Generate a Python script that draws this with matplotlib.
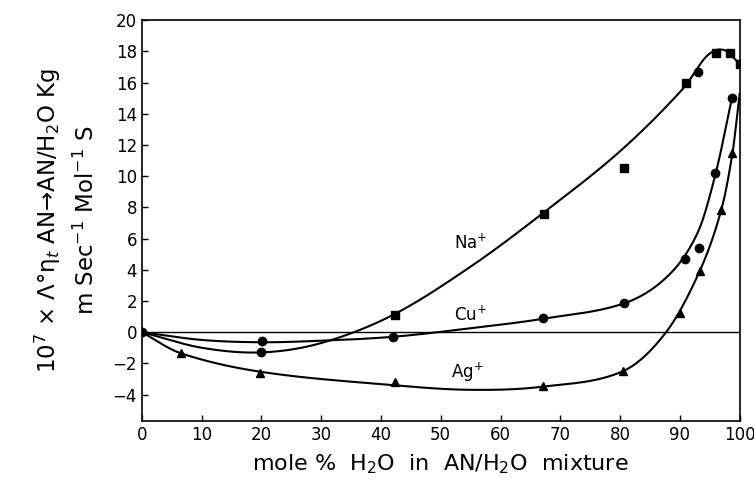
import numpy as np
import matplotlib
matplotlib.use("Agg")
import matplotlib.pyplot as plt

# ---------------- data ----------------
# smooth-curve knots
na_curve_x = [0, 10, 20, 30, 42, 55, 67, 80, 90.5, 94.5, 97.3, 100]
na_curve_y = [0, -1.0, -1.3, -0.7, 1.1, 4.2, 7.6, 11.6, 15.6, 17.7, 18.1, 17.2]

cu_curve_x = [0, 10, 20, 30, 42, 55, 67, 80.7, 88, 93, 96, 98.7]
cu_curve_y = [0, -0.5, -0.65, -0.55, -0.3, 0.25, 0.85, 1.85, 3.6, 6.4, 10.2, 15.0]

ag_curve_x = [0, 6.5, 20, 42, 55, 67, 80.5, 87.7, 93.3, 96.9, 98.8, 100]
ag_curve_y = [0, -1.35, -2.55, -3.4, -3.7, -3.5, -2.5, 0.0, 3.9, 7.8, 11.5, 15.3]

# measured points
na_sq_x = [42.4, 67.3, 80.7, 91.1, 96.0, 98.3, 100]
na_sq_y = [1.1, 7.6, 10.5, 16.0, 17.9, 17.9, 17.2]
na_ci_x = [20.0, 93.1]
na_ci_y = [-1.3, 16.7]

cu_x = [0, 20.1, 42.1, 67.1, 80.7, 90.9, 93.2, 95.8, 98.7]
cu_y = [0, -0.6, -0.3, 0.9, 1.85, 4.7, 5.4, 10.2, 15.0]

ag_x = [6.5, 19.8, 42.3, 67.1, 80.5, 90.1, 93.3, 96.9, 98.8]
ag_y = [-1.35, -2.6, -3.2, -3.45, -2.5, 1.2, 3.9, 7.8, 11.5]

ion_labels = ["Na$^{+}$", "Cu$^{+}$", "Ag$^{+}$"]
ion_label_x = [55, 55, 54.5]
ion_label_y = [5.7, 1.1, -2.6]

x_ticks = list(range(0, 101, 10))
y_ticks = list(range(-4, 21, 2))


def hermite_curve(x, y, xs):
    """Catmull-Rom style cubic Hermite through the knots (local, smooth)."""
    x = np.asarray(x, float)
    y = np.asarray(y, float)
    n = len(x)
    m = np.zeros(n)
    m[1:-1] = (y[2:] - y[:-2]) / (x[2:] - x[:-2])
    m[0] = (y[1] - y[0]) / (x[1] - x[0])
    m[-1] = (y[-1] - y[-2]) / (x[-1] - x[-2])
    h = np.diff(x)
    idx = np.clip(np.searchsorted(x, xs) - 1, 0, n - 2)
    t = (xs - x[idx]) / h[idx]
    h00 = 2 * t**3 - 3 * t**2 + 1
    h10 = t**3 - 2 * t**2 + t
    h01 = -2 * t**3 + 3 * t**2
    h11 = t**3 - t**2
    return h00 * y[idx] + h10 * h[idx] * m[idx] + h01 * y[idx + 1] + h11 * h[idx] * m[idx + 1]


fig = plt.figure(figsize=(7.54, 4.93), dpi=100)
ax = fig.add_axes([0.188, 0.146, 0.793, 0.813])

lw = 1.5
for cx, cy in [(na_curve_x, na_curve_y), (cu_curve_x, cu_curve_y), (ag_curve_x, ag_curve_y)]:
    xs = np.linspace(cx[0], cx[-1], 800)
    ax.plot(xs, hermite_curve(cx, cy, xs), color="black", lw=lw, solid_capstyle="round")

ax.axhline(0, color="black", lw=1.0)

ax.plot(na_sq_x, na_sq_y, "s", color="black", ms=6, ls="none")
ax.plot(na_ci_x, na_ci_y, "o", color="black", ms=6, ls="none")
ax.plot(cu_x, cu_y, "o", color="black", ms=6, ls="none")
ax.plot(ag_x, ag_y, "^", color="black", ms=6, ls="none")

for lab, lx, ly in zip(ion_labels, ion_label_x, ion_label_y):
    ax.text(lx, ly, lab, fontsize=12, ha="center", va="center")

ax.set_xlim(0, 100)
ax.set_ylim(-5.7, 19.9)
ax.set_xticks(x_ticks)
ax.set_yticks(y_ticks)
ax.tick_params(direction="in", length=4, labelsize=12, width=1)
for s in ax.spines.values():
    s.set_linewidth(1.2)

ax.set_xlabel("mole %  H$_2$O  in  AN/H$_2$O  mixture", fontsize=16, labelpad=6)
ax.set_ylabel("10$^7$ × Λ°η$_t$ AN→AN/H$_2$O Kg\nm Sec$^{-1}$ Mol$^{-1}$ S",
              fontsize=16.5, labelpad=10, linespacing=1.5)

fig.savefig("out.png", dpi=100)
